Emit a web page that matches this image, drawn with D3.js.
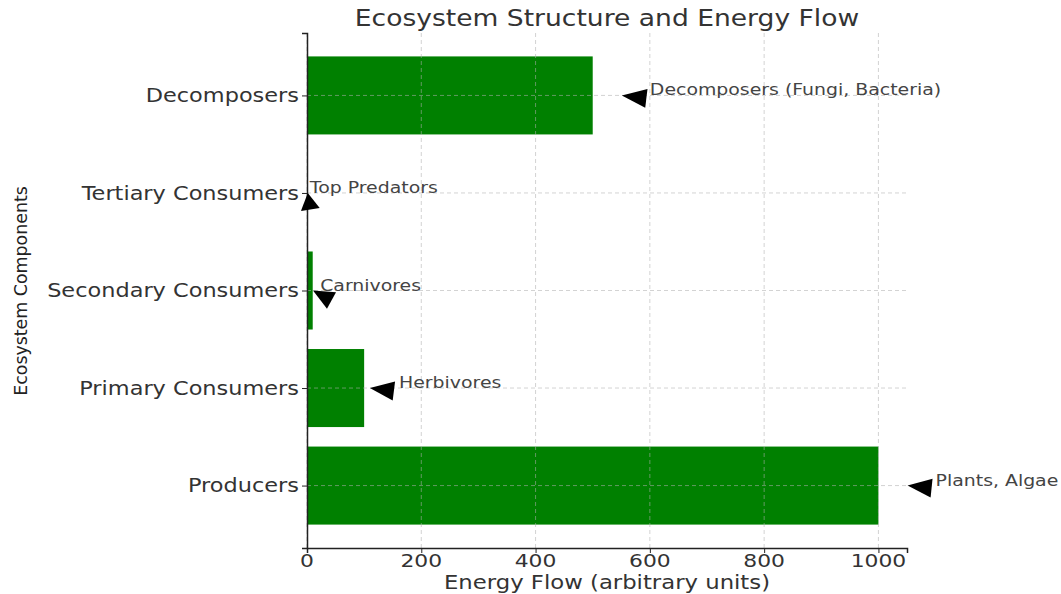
<!DOCTYPE html>
<html>
<head>
<meta charset="utf-8">
<script src="https://d3js.org/d3.v7.min.js"></script>
<style>
  body { margin: 0; background: #fff; }
  text { font-family: "DejaVu Sans", sans-serif; fill: #333; }
</style>
</head>
<body>
<svg width="1061" height="594"></svg>
<script>
// data, bottom to top as in the picture
const components = ['Producers', 'Primary Consumers', 'Secondary Consumers', 'Tertiary Consumers', 'Decomposers'];
const energy = [1000, 100, 10, 1, 500];
const notes = ['Plants, Algae', 'Herbivores', 'Carnivores', 'Top Predators', 'Decomposers (Fungi, Bacteria)'];
// where each note text starts, in energy units
const noteX = [1100, 161, 23, 5, 600];
// arrow head tip (energy units) and its direction (pointing vector)
const headTipX = [1051, 110, 10.5, 1.4, 551];
const headDir = [[-24, -2.5], [-24, -3], [-18.5, -10], [-2.5, -16.5], [-24.5, -3]];
const xTicks = [0, 200, 400, 600, 800, 1000];

const svg = d3.select('svg');
const stretch = 1.18; // the picture is a little wider than tall

const margin = { top: 33, left: 307 };
const innerWidth = 600;
const innerHeight = 515;

const x = d3.scaleLinear().domain([0, 1050]).range([0, innerWidth]);
// matplotlib style limits around the categories
const y = d3.scaleLinear().domain([-0.64, 4.64]).range([innerHeight, 0]);
const barH = y(0) - y(0.8);

const g = svg.append('g').attr('transform', `translate(${margin.left},${margin.top})`);

// text made a bit wider with textLength
const txt = (sel, px, py, size, anchor, str) => {
  const t = sel.append('text')
    .attr('x', px).attr('y', py)
    .attr('text-anchor', anchor)
    .style('font-size', size + 'px')
    .text(str);
  const len = t.node().getComputedTextLength();
  t.attr('textLength', len * stretch).attr('lengthAdjust', 'spacingAndGlyphs');
  return t;
};

// bars
g.selectAll('rect.bar').data(components).enter().append('rect')
  .attr('class', 'bar')
  .attr('x', 0)
  .attr('y', (d, i) => y(i) - barH / 2)
  .attr('width', (d, i) => x(energy[i]))
  .attr('height', barH)
  .attr('fill', '#008000');

// grid over the bars
const grid = g.append('g').attr('stroke', '#b0b0b0').attr('stroke-opacity', 0.7)
  .attr('stroke-dasharray', '4,3').attr('stroke-width', 0.8);
grid.selectAll('line.vx').data(xTicks).enter().append('line')
  .attr('x1', d => x(d)).attr('x2', d => x(d))
  .attr('y1', 0).attr('y2', innerHeight);
grid.selectAll('line.hy').data(components).enter().append('line')
  .attr('x1', 0).attr('x2', innerWidth)
  .attr('y1', (d, i) => y(i)).attr('y2', (d, i) => y(i));

// axes (labels drawn separately so they can be widened)
const xAxis = d3.axisBottom(x).tickValues(xTicks).tickSize(5);
const xAxisG = g.append('g').attr('transform', `translate(0,${innerHeight})`).call(xAxis);
const yAxis = d3.axisLeft(y).tickValues(d3.range(components.length)).tickSize(5);
const yAxisG = g.append('g').call(yAxis);
[xAxisG, yAxisG].forEach(a => {
  a.selectAll('.tick text').remove();
  a.select('.domain').attr('stroke', '#222').attr('stroke-width', 1.5);
  a.selectAll('.tick line').attr('stroke', '#222');
});

xTicks.forEach(t => txt(g, x(t), innerHeight + 13, 18.5, 'middle', t).attr('dy', '0.35em'));
components.forEach((c, i) => txt(g, -8, y(i), 19, 'end', c).attr('dy', '0.35em'));

// annotations
notes.forEach((n, i) => {
  txt(g, x(noteX[i]), y(i), 16, 'start', n).style('fill', '#444');
  const tx = x(headTipX[i]), ty = y(i);
  const [dx, dy] = headDir[i];
  const len = Math.hypot(dx, dy);
  const ux = dx / len, uy = dy / len;
  const bx = tx - dx, by = ty - dy;
  const w = 9.5;
  g.append('path')
    .attr('d', d3.line()([[tx, ty], [bx - uy * w, by + ux * w], [bx + uy * w, by - ux * w]]) + 'Z')
    .attr('fill', '#000');
});

// titles
txt(svg, margin.left + innerWidth / 2, 26, 22.5, 'middle', 'Ecosystem Structure and Energy Flow');
txt(g, innerWidth / 2, innerHeight + 34, 19.3, 'middle', 'Energy Flow (arbitrary units)').attr('dy', '0.35em');
svg.append('text')
  .attr('transform', `translate(27,291) rotate(-90)`)
  .attr('text-anchor', 'middle')
  .style('font-size', '17.4px')
  .style('fill', '#222')
  .text('Ecosystem Components');
</script>
</body>
</html>
